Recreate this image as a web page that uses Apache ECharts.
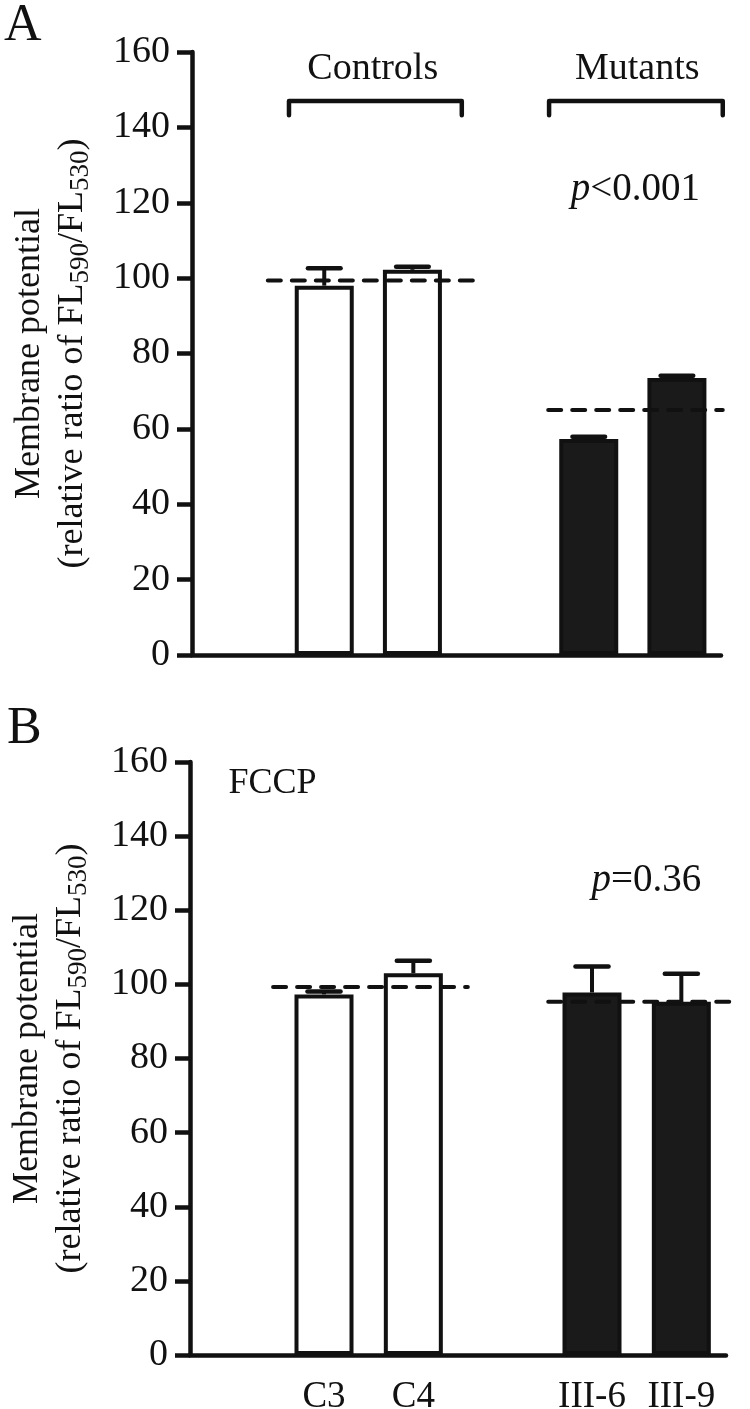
<!DOCTYPE html>
<html><head><meta charset="utf-8">
<script src="https://cdn.jsdelivr.net/npm/echarts@6/dist/echarts.min.js"></script>
<style>html,body{margin:0;padding:0;background:#fff}#c{width:750px;height:1409px}</style>
</head><body><div id="c"></div>
<script>
// ---------- data ----------
const categories = ['', 'C3', 'C4', '', 'III-6', 'III-9'];
const groupKind  = ['', 'control', 'control', '', 'mutant', 'mutant'];
const yMin = 0, yMax = 160, yStep = 20;

// Panel A (baseline)
const meansA = [null, 98.0, 102.2, null, 57.3, 73.5];
const errA   = [null, 4.6, 0.8, null, 0.6, 0.6];
// group mean dashed lines: start / end (category-index units) and value
const meanLineStartA = [0.36, 3.54];
const meanLineEndA   = [2.75, 5.52];
const meanLineValA   = [99.4, 65.0];

// Panel B (FCCP)
const meansB = [null, 97.3, 103.0, null, 97.8, 95.3];
const errB   = [null, 0.8, 3.4, null, 7.0, 7.6];
const meanLineStartB = [0.43, 3.51];
const meanLineEndB   = [2.61, 5.56];
const meanLineValB   = [99.3, 95.3];

// Group brackets (panel A)
const groupNames   = ['Controls', 'Mutants'];
const bracketStart = [0.60, 3.55];
const bracketEnd   = [2.56, 5.52];
const bracketTop   = 147.0;
const bracketFoot  = 143.2;
const groupLabelX  = [1.55, 4.55];
const groupLabelY  = 155.5;

// Annotations
const pTextA = '<0.001', pXA = 4.53, pYA = 123.5;
const pTextB = '=0.36',  pXB = 4.61, pYB = 128.0;
const fccpText = 'FCCP', fccpX = -0.07, fccpY = 154.3;

// ---------- styles ----------
const FONT = "'Liberation Serif','Times New Roman',serif";
const INK = '#111';

const chart = echarts.init(document.getElementById('c'), null, {renderer: 'canvas'});

function barData(means) {
  return means.map((v, i) => v == null ? null : {
    value: v,
    itemStyle: groupKind[i] === 'mutant'
      ? {color: '#1a1a1a', borderColor: INK, borderWidth: 4}
      : {color: '#fff', borderColor: INK, borderWidth: 4}
  });
}
function errData(means, errs) {
  const out = [];
  means.forEach((v, i) => { if (v != null) out.push([i, v, v + errs[i]]); });
  return out;
}
function errRender(params, api) {
  const band = api.size([1, 0])[0];
  const base = api.coord([api.value(0), api.value(1)]);
  const top = api.coord([api.value(0), api.value(2)]);
  const half = band * 0.185;
  return {
    type: 'group', children: [
      {type: 'line', shape: {x1: base[0], y1: base[1], x2: top[0], y2: top[1]}, style: {stroke: INK, lineWidth: 4}},
      {type: 'line', shape: {x1: top[0] - half, y1: top[1], x2: top[0] + half, y2: top[1]}, style: {stroke: INK, lineWidth: 4.5, lineCap: 'round'}}
    ]
  };
}
function meanRender(starts, ends, vals) {
  return function (params, api) {
    const i = params.dataIndex;
    const band = api.size([1, 0])[0];
    const c0 = api.coord([0, vals[i]]);
    return {
      type: 'line',
      shape: {x1: c0[0] + starts[i] * band, y1: c0[1], x2: c0[0] + ends[i] * band, y2: c0[1]},
      style: {stroke: INK, lineWidth: 4, lineDash: [13, 11], lineCap: 'round'}
    };
  };
}
function bracketRender(params, api) {
  const i = params.dataIndex;
  const band = api.size([1, 0])[0];
  const t = api.coord([0, bracketTop]);
  const f = api.coord([0, bracketFoot]);
  const l = api.coord([0, groupLabelY]);
  const x0 = t[0] + bracketStart[i] * band, x1 = t[0] + bracketEnd[i] * band;
  return {
    type: 'group', children: [
      {type: 'polyline', shape: {points: [[x0, f[1]], [x0, t[1]], [x1, t[1]], [x1, f[1]]]},
       style: {stroke: INK, lineWidth: 4.5, fill: null, lineJoin: 'round', lineCap: 'round'}},
      {type: 'text', x: t[0] + groupLabelX[i] * band, y: l[1],
       style: {text: groupNames[i], font: '38px ' + FONT, fill: INK, align: 'center', verticalAlign: 'middle'}}
    ]
  };
}
function textRender(txt, xi, yv, align, isP) {
  return function (params, api) {
    const band = api.size([1, 0])[0];
    const c = api.coord([0, yv]);
    return {
      type: 'text', x: c[0] + xi * band, y: c[1],
      style: isP ? {
        text: '{i|p}{n|' + txt + '}', align: align, verticalAlign: 'middle',
        rich: {i: {fontFamily: FONT, fontSize: 39, fontStyle: 'italic', fill: INK, color: INK},
               n: {fontFamily: FONT, fontSize: 39, fill: INK, color: INK}}
      } : {text: txt, font: '36px ' + FONT, fill: INK, align: align, verticalAlign: 'middle'}
    };
  };
}

const yName = '{t|Membrane potential}\n{t|(relative ratio of FL}{s|590}{t|/FL}{s|530}{t|)}';
function yAxisCfg(gi) {
  return {
    type: 'value', gridIndex: gi, min: yMin, max: yMax, interval: yStep,
    name: yName, nameLocation: 'middle', nameRotate: 90, nameGap: 98,
    nameTextStyle: {
      color: INK, fontFamily: FONT, fontSize: 36, lineHeight: 43,
      rich: {
        t: {fontFamily: FONT, fontSize: 36, lineHeight: 43, color: INK},
        s: {fontFamily: FONT, fontSize: 27, lineHeight: 27, color: INK, verticalAlign: 'bottom'}
      }
    },
    axisLine: {show: true, lineStyle: {color: INK, width: 4.5, cap: 'round'}},
    axisTick: {show: true, length: 15, lineStyle: {color: INK, width: 4.5}},
    axisLabel: {color: INK, fontFamily: FONT, fontSize: 38, margin: 22},
    splitLine: {show: false}
  };
}
function xAxisCfg(gi, showLabels) {
  return {
    type: 'category', gridIndex: gi, data: categories,
    axisLine: {show: true, lineStyle: {color: INK, width: 4.5, cap: 'round'}},
    axisTick: {show: false},
    axisLabel: {show: showLabels, color: INK, fontFamily: FONT, fontSize: 37, margin: 24, interval: 0},
    splitLine: {show: false}
  };
}

const option = {
  backgroundColor: '#fff',
  animation: false,
  grid: [
    {left: 192, right: 29, top: 52, height: 603, outerBoundsMode: 'none', containLabel: false},
    {left: 190, right: 24, top: 762, height: 593, outerBoundsMode: 'none', containLabel: false}
  ],
  xAxis: [xAxisCfg(0, false), xAxisCfg(1, true)],
  yAxis: [yAxisCfg(0), yAxisCfg(1)],
  graphic: [
    {type: 'text', left: 4, top: 0, style: {text: 'A', font: '52px ' + FONT, fill: INK}},
    {type: 'text', left: 7, top: 703, style: {text: 'B', font: '52px ' + FONT, fill: INK}}
  ],
  series: [
    {type: 'bar', xAxisIndex: 0, yAxisIndex: 0, data: barData(meansA), barWidth: 59, z: 2},
    {type: 'custom', xAxisIndex: 0, yAxisIndex: 0, data: errData(meansA, errA), renderItem: errRender, z: 3},
    {type: 'custom', xAxisIndex: 0, yAxisIndex: 0, data: meanLineValA.map(v => [0, v]), renderItem: meanRender(meanLineStartA, meanLineEndA, meanLineValA), z: 4},
    {type: 'custom', xAxisIndex: 0, yAxisIndex: 0, data: groupNames.map(() => [0, bracketTop]), renderItem: bracketRender, z: 4},
    {type: 'custom', xAxisIndex: 0, yAxisIndex: 0, data: [[0, pYA]], renderItem: textRender(pTextA, pXA, pYA, 'center', true), z: 4},

    {type: 'bar', xAxisIndex: 1, yAxisIndex: 1, data: barData(meansB), barWidth: 59, z: 2},
    {type: 'custom', xAxisIndex: 1, yAxisIndex: 1, data: errData(meansB, errB), renderItem: errRender, z: 3},
    {type: 'custom', xAxisIndex: 1, yAxisIndex: 1, data: meanLineValB.map(v => [0, v]), renderItem: meanRender(meanLineStartB, meanLineEndB, meanLineValB), z: 4},
    {type: 'custom', xAxisIndex: 1, yAxisIndex: 1, data: [[0, pYB]], renderItem: textRender(pTextB, pXB, pYB, 'center', true), z: 4},
    {type: 'custom', xAxisIndex: 1, yAxisIndex: 1, data: [[0, fccpY]], renderItem: textRender(fccpText, fccpX, fccpY, 'left', false), z: 4}
  ]
};
chart.setOption(option);
</script>
</body></html>
